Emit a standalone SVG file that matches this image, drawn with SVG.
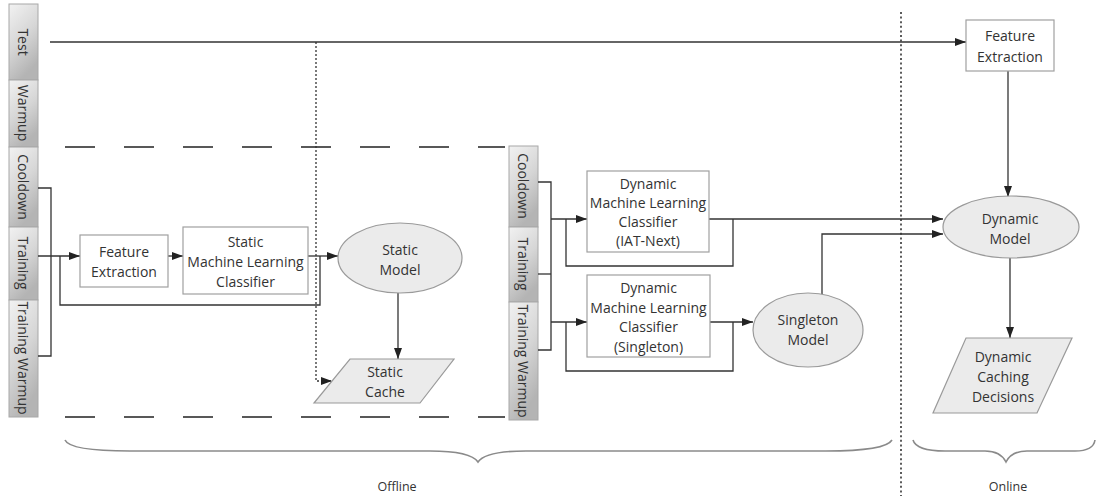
<svg xmlns="http://www.w3.org/2000/svg" width="1097" height="496" viewBox="0 0 1097 496">
<style>
text{font-family:"Open Sans","Liberation Sans",sans-serif;font-size:14px;fill:#333;text-anchor:middle}
.bar{fill:url(#barg);stroke:#a8a8a8;stroke-width:1}
.box{fill:#fff;stroke:#a0a0a0;stroke-width:1.2}
.ell{fill:#ebebeb;stroke:#9a9a9a;stroke-width:1.2}
.par{fill:#ebebeb;stroke:#9a9a9a;stroke-width:1.2}
.ln{fill:none;stroke:#333;stroke-width:1.3}
.arr{fill:none;stroke:#333;stroke-width:1.3;marker-end:url(#ah)}
.dot{fill:none;stroke:#333;stroke-width:1.3;stroke-dasharray:2 2;marker-end:url(#ah)}
.sep{fill:none;stroke:#333;stroke-width:1.6;stroke-dasharray:2 2.6}
.dash{fill:none;stroke:#222;stroke-width:1.3;stroke-dasharray:30 29}
.brace{fill:none;stroke:#8a8a8a;stroke-width:1.6}
.bl{dominant-baseline:central}
</style>
<defs>
<linearGradient id="barg" x1="0" y1="0" x2="0.4" y2="1">
<stop offset="0" stop-color="#f2f2f2"/>
<stop offset="0.55" stop-color="#d6d6d6"/>
<stop offset="1" stop-color="#b4b4b4"/>
</linearGradient>
<marker id="ah" markerUnits="userSpaceOnUse" markerWidth="11" markerHeight="8" refX="11" refY="4" orient="auto">
<path d="M0,0 L11,4 L0,8 z" fill="#222"/>
</marker>
</defs>

<g id="phase-bars-left">
<rect class="bar" x="9" y="4" width="29" height="76"/>
<text class="bl" transform="translate(23.5,42) rotate(90)">Test</text>
<rect class="bar" x="9" y="80" width="29" height="67"/>
<text class="bl" transform="translate(23.5,113) rotate(90)">Warmup</text>
<rect class="bar" x="9" y="147" width="29" height="80"/>
<text class="bl" transform="translate(23.5,187) rotate(90)">Cooldown</text>
<rect class="bar" x="9" y="227" width="29" height="73"/>
<text class="bl" transform="translate(23.5,263) rotate(90)">Training</text>
<rect class="bar" x="9" y="300" width="29" height="117"/>
<text class="bl" transform="translate(23.5,358) rotate(90)">Training Warmup</text>
</g>

<g id="phase-bars-mid">
<rect class="bar" x="509" y="146" width="29" height="81"/>
<text class="bl" transform="translate(523.5,186) rotate(90)">Cooldown</text>
<rect class="bar" x="509" y="227" width="29" height="75"/>
<text class="bl" transform="translate(523.5,264) rotate(90)">Training</text>
<rect class="bar" x="509" y="302" width="29" height="118"/>
<text class="bl" transform="translate(523.5,361) rotate(90)">Training Warmup</text>
</g>

<g id="offline-region">
<line class="dash" x1="65" y1="147" x2="505" y2="147"/>
<line class="dash" x1="65" y1="417" x2="505" y2="417"/>
</g>

<g id="connectors">
<line class="arr" x1="50" y1="42" x2="966" y2="42"/>
<polyline class="dot" points="316,42 316,381 332,381"/>
<path class="ln" d="M38,188 H51 V356 H38"/>
<line class="arr" x1="38" y1="256" x2="80" y2="256"/>
<path class="ln" d="M60,256 V305 H320 V256"/>
<line class="arr" x1="168" y1="256" x2="183" y2="256"/>
<line class="arr" x1="308" y1="256" x2="338" y2="256"/>
<line class="arr" x1="398" y1="293" x2="398" y2="359"/>
<path class="ln" d="M538,182 H551 V350 H538"/>
<line class="ln" x1="538" y1="274" x2="551" y2="274"/>
<line class="arr" x1="551" y1="219" x2="587" y2="219"/>
<line class="arr" x1="551" y1="322" x2="587" y2="322"/>
<path class="ln" d="M566,219 V266 H733 V219"/>
<path class="ln" d="M566,322 V371 H733 V322"/>
<line class="arr" x1="709" y1="219" x2="943" y2="219"/>
<line class="arr" x1="710" y1="322" x2="753" y2="322"/>
<polyline class="arr" points="822,294 822,234 943,234"/>
<line class="arr" x1="1008" y1="71" x2="1008" y2="197"/>
<line class="arr" x1="1010" y1="258" x2="1010" y2="338"/>
</g>

<g id="separator">
<line class="sep" x1="901" y1="12" x2="901" y2="496"/>
</g>

<g id="feature-extraction-offline">
<rect class="box" x="80" y="235" width="88" height="52"/>
<text x="124" y="257">Feature</text>
<text x="124" y="277">Extraction</text>
</g>

<g id="static-ml-classifier">
<rect class="box" x="183" y="227" width="125" height="67"/>
<text x="245.5" y="247">Static</text>
<text x="245.5" y="267">Machine Learning</text>
<text x="245.5" y="287">Classifier</text>
</g>

<g id="static-model">
<ellipse class="ell" cx="400" cy="258" rx="62" ry="35"/>
<text x="400" y="255">Static</text>
<text x="400" y="275">Model</text>
</g>

<g id="static-cache">
<polygon class="par" points="350,359 454,359 420,403 314,403"/>
<text x="385" y="377">Static</text>
<text x="385" y="397">Cache</text>
</g>

<g id="dynamic-ml-iat">
<rect class="box" x="587" y="171" width="122" height="81"/>
<text x="648" y="189">Dynamic</text>
<text x="648" y="208">Machine Learning</text>
<text x="648" y="227">Classifier</text>
<text x="648" y="246">(IAT-Next)</text>
</g>

<g id="dynamic-ml-singleton">
<rect class="box" x="587" y="275" width="123" height="82"/>
<text x="648.5" y="293">Dynamic</text>
<text x="648.5" y="313">Machine Learning</text>
<text x="648.5" y="332">Classifier</text>
<text x="648.5" y="352">(Singleton)</text>
</g>

<g id="singleton-model">
<ellipse class="ell" cx="808" cy="330" rx="55" ry="37"/>
<text x="808" y="325">Singleton</text>
<text x="808" y="345">Model</text>
</g>

<g id="feature-extraction-online">
<rect class="box" x="966" y="20" width="88" height="51"/>
<text x="1010" y="41">Feature</text>
<text x="1010" y="62">Extraction</text>
</g>

<g id="dynamic-model">
<ellipse class="ell" cx="1011" cy="227" rx="68" ry="31"/>
<text x="1010" y="224">Dynamic</text>
<text x="1010" y="244">Model</text>
</g>

<g id="dynamic-caching-decisions">
<polygon class="par" points="966,338 1072,338 1037,413 933,413"/>
<text x="1003" y="362">Dynamic</text>
<text x="1003" y="382">Caching</text>
<text x="1003" y="402">Decisions</text>
</g>

<g id="offline-brace">
<path class="brace" d="M65,440 C68,447 90,451 130,451 H430 C460,451 474,456 478,462 C482,456 496,451 526,451 H826 C866,451 888,447 892,440"/>
<text x="397" y="491" style="font-size:12.5px">Offline</text>
</g>

<g id="online-brace">
<path class="brace" d="M913,440 C915,447 925,451 945,451 H985 C997,451 1003,456 1006,462 C1009,456 1015,451 1027,451 H1075 C1088,451 1094,447 1095,440"/>
<text x="1008" y="491" style="font-size:12.5px">Online</text>
</g>
</svg>
